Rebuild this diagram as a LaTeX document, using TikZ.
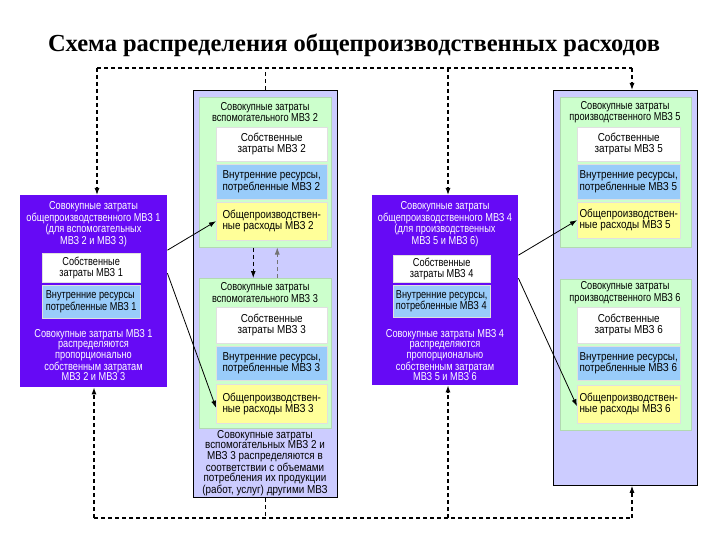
\documentclass[tikz,border=0pt]{standalone}
\usepackage{fontspec}
\setmainfont{Liberation Serif}
\newfontfamily\sfn[FakeStretch=0.8]{Liberation Sans}
\newfontfamily\sfw[FakeStretch=0.86]{Liberation Sans}
\usetikzlibrary{arrows.meta,calc}
\definecolor{purp}{RGB}{102,10,245}
\definecolor{panelc}{RGB}{204,204,255}
\definecolor{greenc}{RGB}{204,255,204}
\definecolor{bluec}{RGB}{153,204,250}
\definecolor{yellowc}{RGB}{255,255,153}
\begin{document}
\begin{tikzpicture}[x=1pt,y=-1pt,
  sz/.style 2 args={minimum width=#1pt, minimum height=#2pt, anchor=north west, inner sep=0pt},
  txt/.style={font=\sfn\fontsize{11.5}{10.6}\selectfont, align=center, inner sep=0pt},
  wtxt/.style={font=\sfw\fontsize{11.5}{10.6}\selectfont, align=center, inner sep=0pt},
  ttl/.style={font=\sfn\fontsize{11.5}{11.5}\selectfont, align=center, inner sep=0pt},
  ibx/.style={font=\sfw\fontsize{11.5}{11.2}\selectfont, align=center},
  nf/.style={font=\sfn\fontsize{11.5}{11.2}\selectfont},
  panel/.style={draw=black, line width=0.8pt, fill=panelc},
  grn/.style={draw=green!50!black!30, line width=0.5pt, fill=greenc},
  wbx/.style={draw=black!12, line width=0.4pt, fill=white, ibx},
  bbx/.style={draw=black!12, line width=0.4pt, fill=bluec, ibx, align=left},
  ybx/.style={draw=black!12, line width=0.4pt, fill=yellowc, ibx, align=left},
  pbx/.style={fill=purp},
  dline/.style={dashed, dash pattern=on 4pt off 3pt, line width=1.1pt},
  arr/.style={-{Latex[length=7pt,width=5pt]}},
  sarr/.style={line width=0.8pt, -{Latex[length=7pt,width=5pt]}}
]
\useasboundingbox (0,0) rectangle (720,540);
\fill[white] (0,0) rectangle (720,540);

% title
\node[font=\bfseries\fontsize{24.5}{28}\selectfont] (title) at (354,45) {Схема распределения общепроизводственных расходов};

% panels
\node[panel, sz={144}{407}] (pA) at (193,90) {};
\node[panel, sz={144}{395}] (pB) at (553,90) {};

% panel A, green 1
\node[grn, sz={132}{150}] (gA1) at (199,97) {};
\node[ttl] (tA1) at (265,112) {Совокупные затраты\\вспомогательного МВЗ 2};
\node[wbx, sz={111}{34}] (wA1) at (216,127) {Собственные\\затраты МВЗ 2};
\node[bbx, sz={111}{35}] (bA1) at (216,164) {Внутренние ресурсы,\\потребленные МВЗ 2};
\node[ybx, sz={111}{38}] (yA1) at (216,202) {Общепроизводствен-\\ные расходы МВЗ 2};

% panel A, green 2
\node[grn, sz={132}{150}] (gA2) at (199,278) {};
\node[ttl] (tA2) at (265,292.5) {Совокупные затраты\\вспомогательного МВЗ 3};
\node[wbx, sz={111}{36}] (wA2) at (216,307) {Собственные\\затраты МВЗ 3};
\node[bbx, sz={111}{34}] (bA2) at (216,346) {Внутренние ресурсы,\\потребленные МВЗ 3};
\node[ybx, sz={111}{39}] (yA2) at (216,384) {Общепроизводствен-\\ные расходы МВЗ 3};

\node[wtxt] (nA) at (265,463) {Совокупные затраты\\вспомогательных МВЗ 2 и\\МВЗ 3 распределяются в\\соответствии с объемами\\потребления их продукции\\(работ, услуг) другими МВЗ};

% panel B, green 1
\node[grn, sz={131}{150}] (gB1) at (560,97) {};
\node[ttl] (tB1) at (625,112) {Совокупные затраты\\производственного МВЗ 5};
\node[wbx, sz={103}{34}] (wB1) at (577,127) {Собственные\\затраты МВЗ 5};
\node[bbx, sz={103}{35}] (bB1) at (577,164) {Внутренние ресурсы,\\потребленные МВЗ 5};
\node[ybx, sz={103}{36}] (yB1) at (577,202) {Общепроизводствен-\\ные расходы МВЗ 5};

% panel B, green 2
\node[grn, sz={131}{151}] (gB2) at (560,279) {};
\node[ttl] (tB2) at (625,292.5) {Совокупные затраты\\производственного МВЗ 6};
\node[wbx, sz={103}{36}] (wB2) at (577,307) {Собственные\\затраты МВЗ 6};
\node[bbx, sz={103}{34}] (bB2) at (577,346) {Внутренние ресурсы,\\потребленные МВЗ 6};
\node[ybx, sz={103}{38}] (yB2) at (577,385) {Общепроизводствен-\\ные расходы МВЗ 6};

% purple box 1
\node[pbx, sz={147}{192}] (p1) at (20,195) {};
\node[ttl, text=white] (p1t) at (93.5,224) {Совокупные затраты\\общепроизводственного МВЗ 1\\(для вспомогательных\\МВЗ 2 и МВЗ 3)};
\node[wbx, nf, sz={98}{29}] (w1) at (42,253) {Собственные\\затраты МВЗ 1};
\node[bbx, nf, sz={98}{33}] (bl1) at (42,285) {Внутренние ресурсы\\потребленные МВЗ 1};
\node[txt, text=white] (p1b) at (93.5,355) {Совокупные затраты МВЗ 1\\распределяются\\пропорционально\\собственным затратам\\МВЗ 2 и МВЗ 3};

% purple box 4
\node[pbx, sz={146}{190}] (p4) at (372,195) {};
\node[ttl, text=white] (p4t) at (445,224) {Совокупные затраты\\общепроизводственного МВЗ 4\\(для производственных\\МВЗ 5 и МВЗ 6)};
\node[wbx, nf, sz={97}{27}] (w4) at (393,255) {Собственные\\затраты МВЗ 4};
\node[bbx, nf, sz={97}{32}] (bl4) at (393,285) {Внутренние ресурсы,\\потребленные МВЗ 4};
\node[txt, text=white] (p4b) at (445,355) {Совокупные затраты МВЗ 4\\распределяются\\пропорционально\\собственным затратам\\МВЗ 5 и МВЗ 6};

% top dashed connectors
\coordinate (tL) at (97,68);
\coordinate (tM) at (448,68);
\coordinate (tR) at (632,68);
\draw[dline] (tL) -- (tR);
\draw[dline] (pA.north) -- (pA.north |- tL);
\draw[dline, arr] (tL) -- (tL |- p1.north);
\draw[dline, arr] (tM) -- (tM |- p4.north);
\draw[dline, arr] (tR) -- (tR |- pB.north);

% bottom dashed connectors
\coordinate (bL) at (94,518);
\coordinate (bM) at (448,518);
\coordinate (bR) at (632,518);
\draw[dline] (bL) -- (bR);
\draw[dline] (pA.south) -- (pA.south |- bL);
\draw[dline, arr] (bL) -- (bL |- p1.south);
\draw[dline, arr] (bM) -- (bM |- p4.south);
\draw[dline, arr] (bR) -- (bR |- pB.south);

% dashed arrows between the green boxes of panel A
\draw[dline, line width=0.9pt, arr] ([xshift=-12pt]gA1.south) -- ([xshift=-12pt]gA2.north);
\draw[dline, line width=0.7pt, draw=black!55, arr] ([xshift=12pt]gA2.north) -- ([xshift=12pt]gA1.south);

% solid arrows
\draw[sarr] ([yshift=41pt]p1.east) -- (yA1.west);
\draw[sarr] ([yshift=18pt]p1.east) -- ([yshift=-4pt]yA2.west);
\draw[sarr] ([yshift=35pt]p4.east) -- (yB1.west);
\draw[sarr] ([yshift=12pt]p4.east) -- ([yshift=-2pt]yB2.west);
\end{tikzpicture}
\end{document}
